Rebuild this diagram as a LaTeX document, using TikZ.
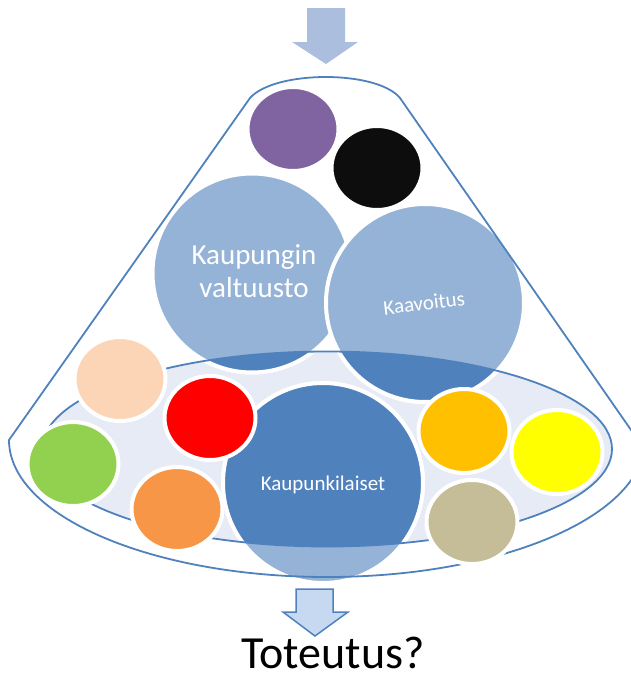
\documentclass[tikz,border=0pt]{standalone}
\usepackage{fontspec}
\setmainfont{Carlito}
\usetikzlibrary{shapes.geometric}
\definecolor{lb}{HTML}{95B3D7}
\definecolor{db}{HTML}{4F81BD}
\definecolor{ellc}{HTML}{E6EBF5}
\definecolor{topar}{HTML}{ABBEDE}
\definecolor{botar}{HTML}{C6D9F1}
\definecolor{cpurple}{HTML}{8064A2}
\definecolor{cblack}{HTML}{0D0D0D}
\definecolor{cpeach}{HTML}{FBD5B5}
\definecolor{cred}{HTML}{FF0000}
\definecolor{cgreen}{HTML}{92D050}
\definecolor{corange}{HTML}{F79646}
\definecolor{cgold}{HTML}{FFC000}
\definecolor{cyellow}{HTML}{FFFF00}
\definecolor{ctan}{HTML}{C4BD97}
\tikzset{
  outl/.style={draw=db, line width=1.8pt},
  bigring/.style={draw=white, line width=4pt},
  smallc/.style={ellipse, draw=white, line width=4pt, inner sep=0pt, minimum width=91pt, minimum height=84pt},
  wtext/.style={text=white, inner sep=0pt},
}
\begin{document}
\begin{tikzpicture}[x=1pt,y=-1pt]
\useasboundingbox (0,0) rectangle (631,680);
% top arrow
\fill[topar] (307,8) -- (345,8) -- (345,42) -- (358,42) -- (326,64) -- (292,42) -- (307,42) -- cycle;
% ellipse fill
\fill[ellc] (327,449) ellipse [x radius=285, y radius=97.5];
% big circles, light
\path[bigring, fill=lb] (252,273) circle [radius=99.5];
\path[bigring, fill=lb] (425,303) circle [radius=99];
\path[bigring, fill=lb] (323,483) circle [radius=100];
% big circles, dark inside the ellipse
\begin{scope}
  \clip (327,449) ellipse [x radius=285, y radius=97.5];
  \path[bigring, fill=db] (252,273) circle [radius=99.5];
  \path[bigring, fill=db] (425,303) circle [radius=99];
  \path[bigring, fill=db] (323,483) circle [radius=100];
\end{scope}
% ellipse outline
\draw[outl] (327,449) ellipse [x radius=285, y radius=97.5];
% cone outline
\draw[outl] (250,98) .. controls (275,70) and (377,70) .. (400,98) -- (638,440)
  -- (645,440) arc [start angle=0, end angle=180, x radius=318, y radius=137] -- cycle;
% small circles
\node[smallc, fill=cpurple] (purple) at (293,129) {};
\node[smallc, fill=cblack]  (black)  at (377,168) {};
\node[smallc, fill=cpeach]  (peach)  at (120,379) {};
\node[smallc, fill=cred]    (red)    at (210,418) {};
\node[smallc, fill=cgreen]  (green)  at (73,464) {};
\node[smallc, fill=corange] (orange) at (177,509) {};
\node[smallc, fill=cgold]   (gold)   at (464,431) {};
\node[smallc, fill=cyellow] (yellow) at (557,452) {};
\node[smallc, fill=ctan]    (tan)    at (472,522) {};
% texts
\node[wtext, align=center, font=\fontsize{29}{33}\selectfont] (valt) at (254,271) {Kaupungin\\valtuusto};
\node[wtext, font=\fontsize{21}{24}\selectfont, rotate=7] (kaav) at (424,303) {Kaavoitus};
\node[wtext, font=\fontsize{21}{24}\selectfont] (kaup) at (323,485) {Kaupunkilaiset};
% bottom arrow
\draw[fill=botar, draw=db, line width=1.5pt] (296,589) -- (333,589) -- (333,612) -- (348,612) -- (315,636) -- (283,612) -- (296,612) -- cycle;
\node[anchor=base, inner sep=0pt, font=\fontsize{46}{54}\selectfont] (tot) at (333,668) {Toteutus?};
\end{tikzpicture}
\end{document}
